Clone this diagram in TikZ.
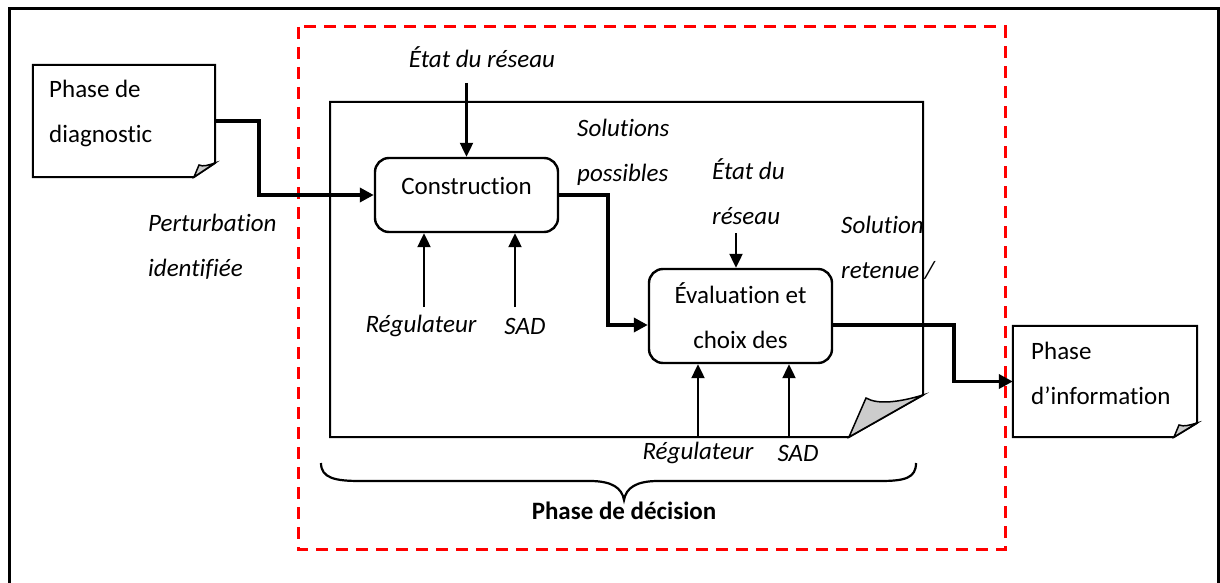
\documentclass[tikz,border=0pt]{standalone}
\usepackage{fontspec}
\setmainfont[Ligatures={NoCommon}]{Carlito}
\usetikzlibrary{arrows.meta}
\begin{document}
\begin{tikzpicture}[x=1pt,y=-1pt,
  txt/.style={font=\fontsize{25}{45}\selectfont, inner sep=0pt, align=left},
  itxt/.style={txt, font=\fontsize{25}{45}\selectfont\itshape},
  docline/.style={draw=black, line width=2pt},
  foldfill/.style={draw=black, line width=1.5pt, fill=gray!40},
  procbox/.style={draw=black, line width=2.4pt, rounded corners=14pt, inner sep=0pt},
  conn/.style={line width=3.5pt, -{Triangle[length=14pt,width=14pt]}},
  inarrow/.style={line width=2.2pt, -{Triangle[length=14pt,width=13pt]}},
  redframe/.style={draw=red, line width=3pt, dash pattern=on 12pt off 8pt}
]
\useasboundingbox (0,0) rectangle (1220,583);
% outer frame (bottom edge outside the picture)
\draw[line width=3pt] (9,600) -- (9,9) -- (1218.5,9) -- (1218.5,600);
% red dashed frame
\draw[redframe] (298,27) rectangle (1005,549);

% Phase de diagnostic document
\node[minimum width=182pt, minimum height=112pt, inner sep=0pt] (diag) at (124,121) {};
\draw[docline] (diag.north west) -- (diag.north east) -- (215,163) -- (194,177) -- (diag.south west) -- cycle;
\draw[foldfill] (194,177) -- (199,165) .. controls (203,167) and (209,165) .. (215,163) -- cycle;
\node[txt, anchor=west] (diagtxt) at (49,113) {Phase de\\diagnostic};

% Phase d'information document
\node[minimum width=184pt, minimum height=111pt, inner sep=0pt] (info) at (1105,381.5) {};
\draw[docline] (info.north west) -- (info.north east) -- (1197,423) -- (1174,437) -- (info.south west) -- cycle;
\draw[foldfill] (1174,437) -- (1179,425) .. controls (1184,427) and (1190,425) .. (1197,423) -- cycle;
\node[txt, anchor=west] (infotxt) at (1031,373) {Phase\\d’information};

% inner decision document
\coordinate (dA) at (330,102);
\coordinate (dB) at (923,102);
\coordinate (dC) at (923,395);
\coordinate (dD) at (849,437);
\coordinate (dE) at (330,437);
\draw[docline] (dA) -- (dB) -- (dC) -- (dD) -- (dE) -- cycle;
\draw[foldfill] (dD) -- (866,398) .. controls (878,405) and (900,402) .. (dC) -- cycle;

% process boxes
\node[procbox, minimum width=183pt, minimum height=74pt] (con) at (466.5,195) {};
\node[txt] (contxt) at ([yshift=9pt]con.center) {Construction};
\node[procbox, minimum width=183pt, minimum height=94pt] (eval) at (740.5,316) {};
\node[txt, align=center] (evaltxt) at (eval.center) {Évaluation et\\choix des};

% labels
\node[itxt, anchor=west] (pert) at (148,247) {Perturbation\\identifiée};
\node[itxt] (etat1) at (482,57) {État du réseau};
\node[itxt, anchor=west] (solp) at (577,152) {Solutions\\possibles};
\node[itxt, anchor=west] (etat2) at (712,192) {État du\\réseau};
\node[itxt, anchor=west] (solr) at (841,248) {Solution\\retenue /};
\node[itxt] (reg1) at (421,326) {Régulateur};
\node[itxt] (sad1) at (525,326) {SAD};
\node[itxt] (reg2) at (698,453) {Régulateur};
\node[itxt] (sad2) at (798,453) {SAD};
\node[txt, font=\fontsize{25}{45}\selectfont\bfseries] (dec) at (624,511) {Phase de décision};

% brace
\draw[line width=2.2pt] (321,463) .. controls (321,478) and (335,481) .. (360,481) -- (590,481)
  .. controls (612,481) and (622,488) .. (624,500)
  .. controls (626,488) and (636,481) .. (658,481) -- (880,481)
  .. controls (905,481) and (916,478) .. (916,463);

% main flow connectors
\draw[conn] (diag.east) -- ++(44,0) |- (con.west);
\draw[conn] (con.east) -- ++(49,0) |- ([yshift=-9pt]eval.west);
\draw[conn] ([yshift=-9pt]eval.east) -- ++(121,0) |- (info.west);

% input arrows
\coordinate (e1) at (466.5,83);
\draw[inarrow] (e1) -- (con.north);
\coordinate (r1) at (424,307);
\coordinate (s1) at (515,307);
\draw[inarrow] (r1) -- (r1 |- con.south);
\draw[inarrow] (s1) -- (s1 |- con.south);
\coordinate (e2) at (736,233);
\draw[inarrow] (e2) -- (e2 |- eval.north);
\coordinate (r2) at (698,437);
\coordinate (s2) at (789,437);
\draw[inarrow] (r2) -- (r2 |- eval.south);
\draw[inarrow] (s2) -- (s2 |- eval.south);
\end{tikzpicture}
\end{document}
